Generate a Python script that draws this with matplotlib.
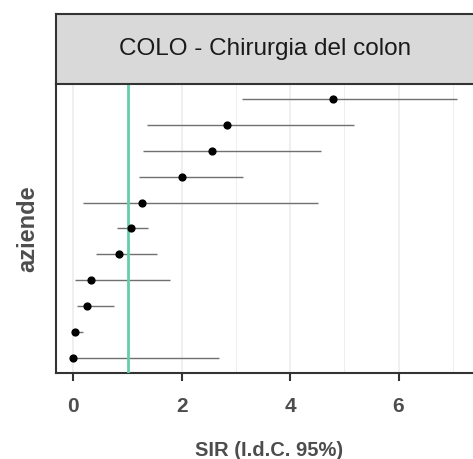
import numpy as np
import matplotlib.pyplot as plt

# dati (dall'alto verso il basso)
sir = [4.80, 2.83, 2.55, 2.01, 1.26, 1.06, 0.85, 0.32, 0.26, 0.04, 0.00]
ic_low = [3.12, 1.36, 1.29, 1.22, 0.17, 0.81, 0.41, 0.03, 0.07, 0.00, 0.00]
ic_high = [7.08, 5.18, 4.57, 3.14, 4.51, 1.38, 1.55, 1.78, 0.75, 0.17, 2.69]
titolo = "COLO - Chirurgia del colon"
x_ticks = [0, 2, 4, 6]

W, H = 473, 459
fig = plt.figure(figsize=(W / 100, H / 100), dpi=100)
plt.rcParams['font.family'] = ['Liberation Sans', 'DejaVu Sans']

# pannello: 0 a x=73.3px, 54.2 px per unita'
left_px, right_px = 56, 482
top_px, bot_px = 84, 373
x0 = -(73.3 - left_px) / 54.2
x1 = x0 + (right_px - left_px) / 54.2

ax = fig.add_axes([left_px / W, 1 - bot_px / H,
                   (right_px - left_px) / W, (bot_px - top_px) / H])
n = len(sir)
y = np.arange(n, 0, -1)

for v in [0, 1, 2, 3, 4, 5, 6, 7]:
    ax.axvline(v, color='#EBEBEB', lw=1.1 if v % 2 == 0 else 0.6, zorder=0)
ax.hlines(y, ic_low, ic_high, color='#707070', lw=1.0, zorder=2)
ax.axvline(1, color='#66CDAA', lw=2, zorder=3)
ax.scatter(sir, y, s=24, color='black', zorder=4)

ax.set_xlim(x0, x1)
ax.set_ylim(0.4, n + 0.6)
ax.set_yticks([])
ax.set_xticks(x_ticks)
ax.set_xticklabels([str(t) for t in x_ticks], fontsize=15, fontweight='bold', color='#4D4D4D')
ax.tick_params(axis='x', length=6, width=1.5, color='#333333', pad=11)
for s in ['left', 'bottom']:
    ax.spines[s].set_color('#333333')
    ax.spines[s].set_linewidth(1.5)
for s in ['top', 'right']:
    ax.spines[s].set_visible(False)
ax.set_xlabel('SIR (I.d.C. 95%)', fontsize=14.5, fontweight='bold', color='#4D4D4D', labelpad=18)
ax.set_ylabel('aziende', fontsize=17, fontweight='bold', color='#4D4D4D', labelpad=12)

# striscia del titolo
sax = fig.add_axes([left_px / W, 1 - top_px / H, (right_px - left_px) / W, (top_px - 14) / H])
sax.set_facecolor('#D9D9D9')
sax.set_xticks([])
sax.set_yticks([])
for s in sax.spines.values():
    s.set_color('#333333')
    s.set_linewidth(1.5)
sax.text((265.5 - left_px) / (right_px - left_px), 0.5, titolo, transform=sax.transAxes,
         ha='center', va='center', fontsize=17.5, color='#1A1A1A')

fig.savefig('out.png', dpi=100)
